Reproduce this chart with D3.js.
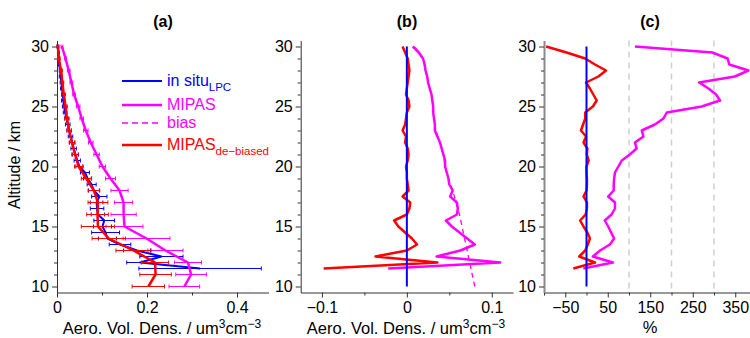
<!DOCTYPE html>
<html>
<head>
<meta charset="utf-8">
<script src="https://cdn.jsdelivr.net/npm/d3@7"></script>
<style>
  body { margin: 0; background: #fff; }
  svg { display: block; font-family: "Liberation Sans", Arial, Helvetica, sans-serif; }
</style>
</head>
<body>
<svg id="chart" width="750" height="338"></svg>
<script>
// altitude grids (km)
const altKm = [10, 11, 12, 13, 14, 15, 16, 17, 18, 19, 20, 21, 22, 23, 24, 25, 26, 27, 28, 29, 30]
const altHalf = [11.5, 12, 12.5, 13, 13.5, 14, 14.5, 15, 15.5, 16, 16.5, 17, 17.5, 18, 18.5, 19, 19.5, 20,
  20.5, 21, 21.5, 22, 22.5, 23, 23.5, 24, 24.5, 25, 25.5, 26, 26.5, 27, 27.5, 28, 28.5, 29, 29.5, 30]

// (a) absolute profiles, um3 cm-3
const inSitu = [0.318, 0.185, 0.232, 0.178, 0.140, 0.112, 0.108, 0.101, 0.105, 0.091, 0.089, 0.088, 0.094, 0.082,
  0.077, 0.068, 0.062, 0.050, 0.045, 0.041, 0.037, 0.034, 0.030, 0.027, 0.024, 0.021, 0.018, 0.016, 0.014,
  0.013, 0.011, 0.010, 0.008, 0.007, 0.005, 0.004, 0.003, 0.002]
const inSituErr = [0.136, 0.030, 0.048, 0.030, 0.024, 0.020, 0.031, 0.020, 0.023, 0.015, 0.015, 0.014, 0.017, 0.012,
  0.010, 0.009, 0.010, 0.008, 0.007, 0.007, 0.006, 0.006, 0.005, 0.005, 0.005, 0.004, 0.004, 0.004, 0.004,
  0.003, 0.003, 0.003, 0.003, 0.002, 0.002, 0.002, 0.002, 0.002]
const mipas = [0.283, 0.298, 0.291, 0.241, 0.199, 0.150, 0.148, 0.148, 0.139, 0.119, 0.101, 0.088, 0.075, 0.064,
  0.055, 0.047, 0.038, 0.032, 0.026, 0.019, 0.011]
const mipasErr = [0.034, 0.034, 0.030, 0.039, 0.052, 0.041, 0.028, 0.020, 0.019, 0.011, 0.007, 0.006, 0.005, 0.005,
  0.004, 0.004, 0.003, 0.003, 0.003, 0.002, 0.002]
const debiased = [0.203, 0.219, 0.218, 0.170, 0.115, 0.091, 0.090, 0.091, 0.082, 0.065, 0.048, 0.040, 0.033, 0.027,
  0.022, 0.019, 0.015, 0.012, 0.009, 0.004, 0.002]
const debiasedErr = [0.036, 0.035, 0.030, 0.039, 0.037, 0.037, 0.024, 0.022, 0.013, 0.011, 0.009, 0.007, 0.006, 0.005,
  0.005, 0.004, 0.004, 0.003, 0.003, 0.003, 0.002]

// (b) differences to in situ, um3 cm-3
const diffMipas = [-0.022, 0.110, 0.035, 0.063, 0.080, 0.071, 0.062, 0.053, 0.046, 0.059, 0.060, 0.059, 0.051, 0.054,
  0.050, 0.049, 0.047, 0.045, 0.045, 0.043, 0.041, 0.039, 0.036, 0.033, 0.033, 0.032, 0.031, 0.031, 0.030,
  0.029, 0.027, 0.025, 0.024, 0.022, 0.021, 0.019, 0.014, 0.007]
const diffDebiased = [-0.098, 0.036, -0.037, 0.000, 0.012, 0.006, -0.002, -0.010, -0.015, 0.000, 0.003, 0.004, -0.005,
  0.002, 0.001, 0.000, 0.000, -0.001, 0.001, 0.002, 0.001, -0.002, -0.001, -0.005, -0.002, -0.001, 0.000,
  0.003, 0.002, -0.001, 0.000, 0.001, 0.002, 0.003, 0.002, 0.001, -0.002, -0.005]
const bias = [0.080, 0.077, 0.074, 0.071, 0.068, 0.065, 0.062, 0.058, 0.054, 0.049, 0.045, 0.043, 0.039, 0.034,
  0.032, 0.031, 0.029, 0.025, 0.022, 0.019, 0.009]

// (c) relative differences, %
const pctMipas = [-7.5, 62, 15, 32, 55, 65, 58, 51, 43, 59, 67, 67, 51, 64, 64, 65, 67, 75, 83, 102, 118, 114,
  134, 130, 161, 181, 189, 271, 314, 305, 287, 265, 349, 381, 336, 332, 296, 114]
const pctDebiased = [-31, 20, -17, -3, 3, 8, 2, -7, -15, -2, 1, 1, -7, 0, 1, 1, 0, 0, 5, 1, 2, -7, -1, -13, -8, -3,
  -3, 15, 24, 16, 8, -1, 28, 46, 20, -3, -47, -95]

const refAlt = [10, 30]
const refZero = [0, 0]

const yMajor = [10, 15, 20, 25, 30]
const yMinor = [11, 12, 13, 14, 16, 17, 18, 19, 21, 22, 23, 24, 26, 27, 28, 29]
const gridPct = [100, 200, 300]

const BLUE = "#0000ff", MAGENTA = "#ff00ff", RED = "#ff0000"
const FS = 16

const svg = d3.select("#chart")
const y = d3.scaleLinear().domain([9.5, 30.5]).range([292.5, 40.5])
const yBottom = y.range()[0]

function styleTicks(g) {
  g.selectAll("text").attr("font-size", FS).attr("fill", "#000")
    .attr("font-family", "\"Liberation Sans\", Arial, sans-serif")
  g.selectAll("line").attr("stroke", "#333")
  g.select(".domain").attr("stroke", "#333")
}

function drawAxes(x, xMajor, xMinor, fmt, yAxisStroke, yAxisWidth) {
  const xAxis = svg.append("g").attr("transform", `translate(0,${yBottom})`)
    .call(d3.axisBottom(x).tickValues(xMajor).tickSize(5).tickSizeOuter(0).tickPadding(4).tickFormat(fmt))
  styleTicks(xAxis)
  const xMin = svg.append("g").attr("transform", `translate(0,${yBottom})`)
    .call(d3.axisBottom(x).tickValues(xMinor).tickSize(3).tickFormat(""))
  xMin.select(".domain").remove()
  xMin.selectAll("line").attr("stroke", "#333")

  const x0 = x.range()[0]
  const yAxis = svg.append("g").attr("transform", `translate(${x0},0)`)
    .call(d3.axisLeft(y).tickValues(yMajor).tickSize(5).tickSizeOuter(0).tickPadding(3))
  styleTicks(yAxis)
  yAxis.select(".domain").attr("stroke", yAxisStroke).attr("stroke-width", yAxisWidth)
  const yMin = svg.append("g").attr("transform", `translate(${x0},0)`)
    .call(d3.axisLeft(y).tickValues(yMinor).tickSize(3).tickFormat(""))
  yMin.select(".domain").remove()
  yMin.selectAll("line").attr("stroke", "#333")
}

function profile(x, alts, vals, color, width, dash) {
  const line = d3.line().x(d => x(d[1])).y(d => y(d[0]))
  svg.append("path")
    .datum(alts.map((a, i) => [a, vals[i]]))
    .attr("d", line)
    .attr("fill", "none")
    .attr("stroke", color)
    .attr("stroke-width", width)
    .attr("stroke-linejoin", "round")
    .attr("stroke-dasharray", dash || null)
}

function errorBars(x, alts, vals, errs, color) {
  const g = svg.append("g").attr("stroke", color).attr("stroke-width", 1)
  alts.forEach((a, i) => {
    const lo = x(vals[i] - errs[i]), hi = x(vals[i] + errs[i]), yy = y(a)
    g.append("line").attr("x1", lo).attr("x2", hi).attr("y1", yy).attr("y2", yy)
    g.append("line").attr("x1", lo).attr("x2", lo).attr("y1", yy - 2).attr("y2", yy + 2)
    g.append("line").attr("x1", hi).attr("x2", hi).attr("y1", yy - 2).attr("y2", yy + 2)
  })
}

function title(txt, cx) {
  svg.append("text").attr("x", cx).attr("y", 27).attr("text-anchor", "middle")
    .attr("font-size", FS).attr("font-weight", "bold").text(txt)
}

function volLabel(cx) {
  const t = svg.append("text").attr("x", cx).attr("y", 334).attr("text-anchor", "middle").attr("font-size", 16.5)
  t.append("tspan").text("Aero. Vol. Dens. / um")
  t.append("tspan").attr("dy", -6).attr("font-size", 12).text("3")
  t.append("tspan").attr("dy", 6).text("cm")
  t.append("tspan").attr("dy", -6).attr("font-size", 12).text("\u22123")
}

// ---- panel (a)
const xa = d3.scaleLinear().domain([0, 0.47]).range([57, 268.5])
drawAxes(xa, [0, 0.2, 0.4], [0.1, 0.3], d3.format(".1~f"), "#333", 1)
errorBars(xa, altHalf, inSitu, inSituErr, BLUE)
profile(xa, altHalf, inSitu, BLUE, 2)
errorBars(xa, altKm, mipas, mipasErr, MAGENTA)
profile(xa, altKm, mipas, MAGENTA, 2.5)
errorBars(xa, altKm, debiased, debiasedErr, RED)
profile(xa, altKm, debiased, RED, 2.5)
title("(a)", 163)
volLabel(162)

// legend
const legend = [
  { label: "in situ", sub: "LPC", color: BLUE, y: 81, dash: null, w: 2 },
  { label: "MIPAS", sub: null, color: MAGENTA, y: 105, dash: null, w: 2.5 },
  { label: "bias", sub: null, color: MAGENTA, y: 123, dash: "6,4", w: 1.5 },
  { label: "MIPAS", sub: "de\u2212biased", color: RED, y: 145, dash: null, w: 2.5 }
]
legend.forEach(d => {
  svg.append("line").attr("x1", 122).attr("x2", 162).attr("y1", d.y).attr("y2", d.y)
    .attr("stroke", d.color).attr("stroke-width", d.w).attr("stroke-dasharray", d.dash)
  const t = svg.append("text").attr("x", 167).attr("y", d.y + 5).attr("font-size", FS).attr("fill", d.color)
  t.append("tspan").text(d.label)
  if (d.sub) t.append("tspan").attr("dy", 5).attr("font-size", 11.5).text(d.sub)
})

// ---- panel (b)
const xb = d3.scaleLinear().domain([-0.125, 0.125]).range([300.7, 513])
drawAxes(xb, [-0.1, 0, 0.1], [-0.05, 0.05], d3.format(".1~f"), "#333", 1)
profile(xb, altKm, bias, MAGENTA, 1.3, "5,4")
profile(xb, altHalf, diffMipas, MAGENTA, 2.5)
profile(xb, altHalf, diffDebiased, RED, 2.5)
profile(xb, refAlt, refZero, BLUE, 2)
title("(b)", 407)
volLabel(406)

// ---- panel (c)
const xc = d3.scaleLinear().domain([-100, 400]).range([544, 756.5])
svg.append("g").selectAll("line").data(gridPct).join("line")
  .attr("x1", d => xc(d)).attr("x2", d => xc(d))
  .attr("y1", y.range()[1]).attr("y2", yBottom)
  .attr("stroke", "#cfcfcf").attr("stroke-width", 1.5).attr("stroke-dasharray", "6,5")
drawAxes(xc, [-50, 50, 150, 250, 350], [-100, 0, 100, 200, 300], d3.format("d"), "#8a8a8a", 2)
profile(xc, altHalf, pctMipas, MAGENTA, 2.5)
profile(xc, altHalf, pctDebiased, RED, 2.5)
profile(xc, refAlt, refZero, BLUE, 2)
title("(c)", 650)
svg.append("text").attr("x", 650).attr("y", 333).attr("text-anchor", "middle").attr("font-size", 16.5).text("%")

// y label
svg.append("text").attr("transform", "translate(20,165) rotate(-90)")
  .attr("text-anchor", "middle").attr("font-size", 16).text("Altitude / km")
</script>
</body>
</html>
